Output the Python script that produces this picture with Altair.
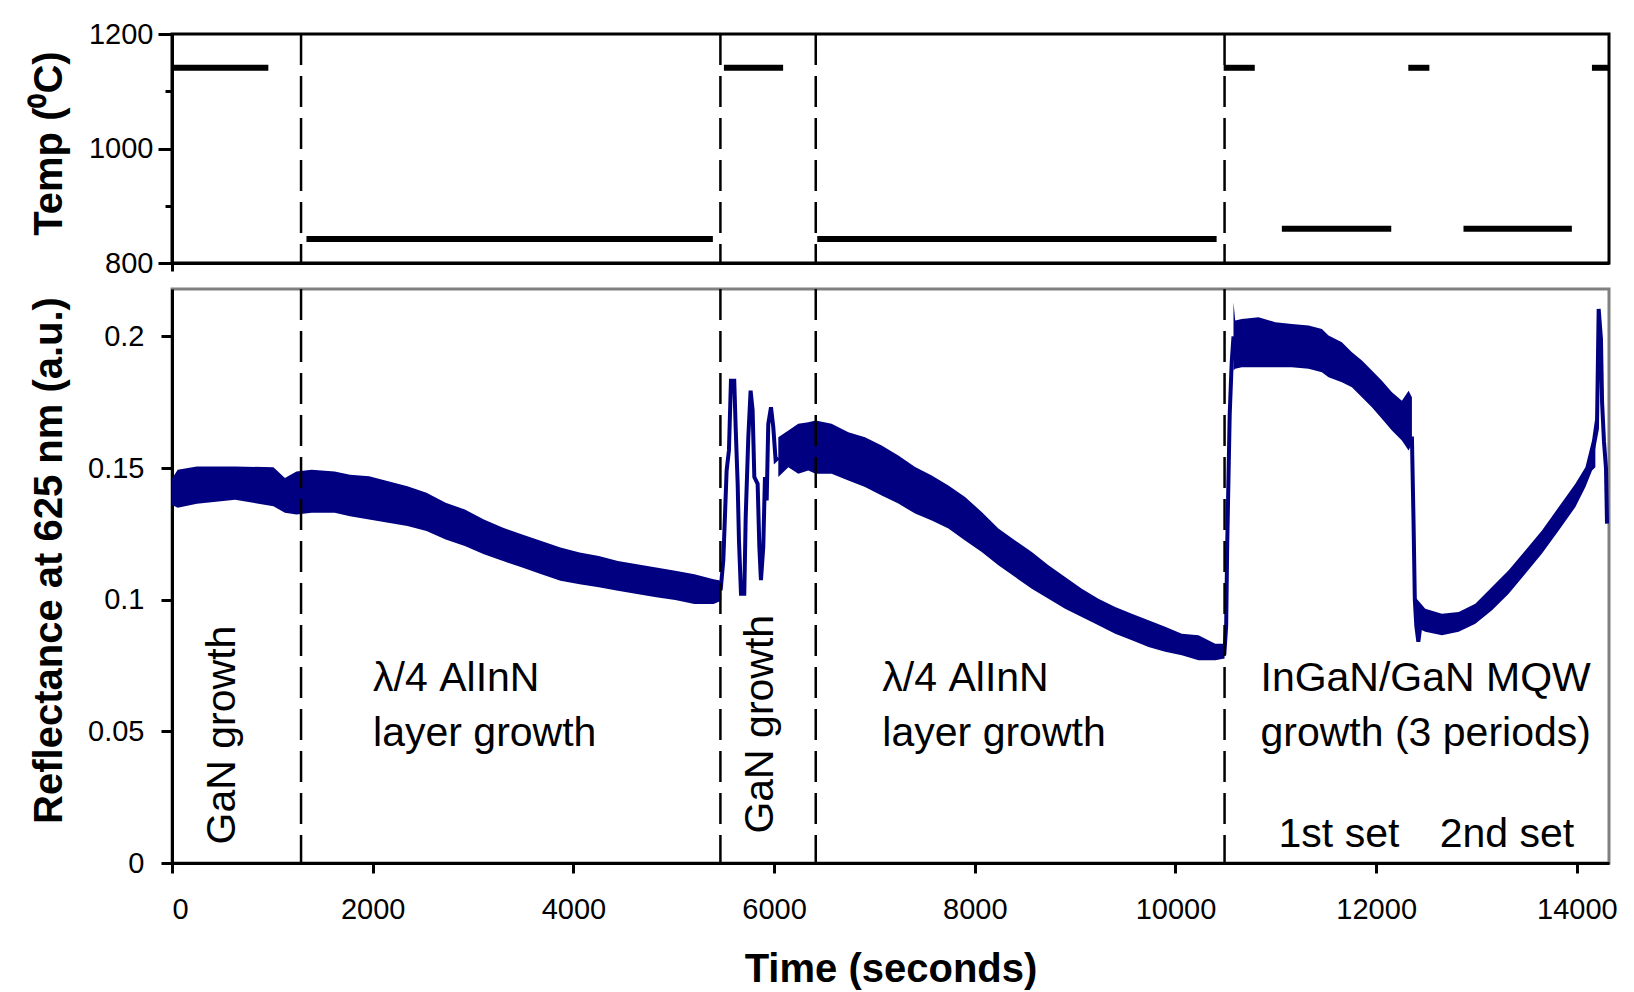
import altair as alt
import pandas as pd

# ---------------- data ----------------
# growth-step boundaries (s)
boundary_t = [1286, 5465, 6415, 10489]

# temperature schedule (top panel)
temp_start = [0, 1340, 5500, 6430, 10480, 11060, 12320, 12870, 14150]
temp_end = [960, 5390, 6090, 10410, 10790, 12150, 12530, 13950, 14320]
temp_value = [1141, 842, 1141, 842, 1141, 860, 1141, 860, 1141]

# reflectance band envelope (noisy trace drawn as a filled band)
band_seg = (["A"] * 30) + (["B"] * 30) + (["C"] * 18) + (["D"] * 14)
band_t = [
    0, 57, 248, 629, 1011, 1125, 1240, 1392, 1621, 1774, 1964, 2155, 2346, 2536, 2727,
    2918, 3108, 3299, 3490, 3681, 3871, 4062, 4253, 4443, 4634, 4825, 5015, 5206, 5397, 5473,
    6042, 6142, 6241, 6341, 6414, 6573, 6740, 6906, 7072, 7238, 7405, 7571, 7737, 7903, 8069,
    8235, 8402, 8568, 8734, 8900, 9066, 9232, 9399, 9565, 9731, 9897, 10063, 10229, 10396, 10489,
    10578, 10595, 10661, 10827, 10994, 11160, 11326, 11459, 11525, 11658, 11758, 11858, 11957,
    12057, 12157, 12256, 12323, 12356,
    12389, 12489, 12655, 12822, 12988, 13154, 13320, 13486, 13652, 13819, 13985, 14085, 14151, 14184,
]
band_lo = [
    0.1360, 0.1349, 0.1364, 0.1380, 0.1355, 0.1330, 0.1324, 0.1330, 0.1330, 0.1317, 0.1305, 0.1292,
    0.1280, 0.1261, 0.1229, 0.1204, 0.1173, 0.1147, 0.1122, 0.1097, 0.1072, 0.1059, 0.1047, 0.1034,
    0.1022, 0.1009, 0.0999, 0.0984, 0.0984, 0.0996,
    0.1466, 0.1503, 0.1478, 0.1491, 0.1478, 0.1478, 0.1453, 0.1428, 0.1396, 0.1365, 0.1327, 0.1301,
    0.1270, 0.1225, 0.1181, 0.1131, 0.1086, 0.1042, 0.1004, 0.0966, 0.0934, 0.0903, 0.0871, 0.0846,
    0.0820, 0.0802, 0.0789, 0.0770, 0.0770, 0.0777,
    0.1870, 0.1877, 0.1883, 0.1883, 0.1883, 0.1883, 0.1877, 0.1864, 0.1845, 0.1826, 0.1807, 0.1769,
    0.1731, 0.1687, 0.1643, 0.1605, 0.1567, 0.1592,
    0.0896, 0.0878, 0.0865, 0.0878, 0.0909, 0.0960, 0.1023, 0.1099, 0.1175, 0.1263, 0.1352, 0.1428,
    0.1491, 0.1503,
]
band_hi = [
    0.1460, 0.1494, 0.1506, 0.1506, 0.1503, 0.1462, 0.1487, 0.1494, 0.1487, 0.1475, 0.1469, 0.1450,
    0.1431, 0.1406, 0.1368, 0.1343, 0.1305, 0.1273, 0.1248, 0.1223, 0.1198, 0.1179, 0.1166, 0.1147,
    0.1135, 0.1122, 0.1110, 0.1097, 0.1078, 0.1072,
    0.1617, 0.1643, 0.1668, 0.1674, 0.1681, 0.1668, 0.1636, 0.1617, 0.1586, 0.1548, 0.1504, 0.1472,
    0.1434, 0.1390, 0.1333, 0.1270, 0.1225, 0.1181, 0.1131, 0.1086, 0.1042, 0.1004, 0.0972, 0.0947,
    0.0922, 0.0897, 0.0871, 0.0865, 0.0833, 0.0833,
    0.2130, 0.2060, 0.2066, 0.2073, 0.2054, 0.2047, 0.2041, 0.2028, 0.2003, 0.1978, 0.1940, 0.1908,
    0.1870, 0.1832, 0.1788, 0.1756, 0.1794, 0.1769,
    0.1010, 0.0966, 0.0947, 0.0953, 0.0985, 0.1048, 0.1112, 0.1187, 0.1263, 0.1352, 0.1440, 0.1503,
    0.1605, 0.1693,
]

# single-trace parts (oscillations and fast transitions)
line_seg = (["osc"] * 27) + (["up"] * 6) + (["drop"] * 6) + (["end"] * 8)
line_t = [
    5467, 5494, 5527, 5550, 5570, 5603, 5617, 5637, 5650, 5670, 5703, 5717, 5743, 5766,
    5786, 5803, 5836, 5853, 5869, 5892, 5909, 5926, 5942, 5969, 5992, 6015, 6042,
    10486, 10505, 10515, 10540, 10560, 10578,
    12356, 12372, 12385, 12400, 12420, 12440,
    14151, 14200, 14217, 14240, 14251, 14270, 14290, 14300,
]
line_v = [
    0.1036, 0.1149, 0.1491, 0.1567, 0.1832, 0.1832, 0.1655, 0.1440, 0.1225, 0.1023, 0.1023,
    0.1314, 0.1617, 0.1794, 0.1719, 0.1466, 0.1440, 0.1200, 0.1074, 0.1200, 0.1466, 0.1377,
    0.1668, 0.1731, 0.1655, 0.1530, 0.1540,
    0.0790, 0.0900, 0.1200, 0.1700, 0.1900, 0.2000,
    0.1620, 0.1300, 0.1000, 0.0900, 0.0840, 0.0900,
    0.1550, 0.1650, 0.2104, 0.1990, 0.1750, 0.1600, 0.1500, 0.1289,
]

# annotations
label_text = ["λ/4 AlInN", "layer growth", "λ/4 AlInN", "layer growth",
              "InGaN/GaN MQW", "growth (3 periods)", "1st set", "2nd set"]
label_t = [2004, 2004, 7079, 7079, 10847, 10847, 11027, 12633]
label_v = [0.0700, 0.0491, 0.0700, 0.0491, 0.0700, 0.0491, 0.0107, 0.0107]
vlabel_text = ["GaN growth", "GaN growth"]
vlabel_t = [508, 5867]
vlabel_v = [0.0486, 0.0527]

# ---------------- tables ----------------
bdf = pd.DataFrame({"t": boundary_t})
tdf = pd.DataFrame({"start": temp_start, "end": temp_end, "temp": temp_value})
band_df = pd.DataFrame({"seg": band_seg, "t": band_t, "lo": band_lo, "hi": band_hi})
line_df = pd.DataFrame({"seg": line_seg, "t": line_t, "v": line_v})
lab_df = pd.DataFrame({"t": label_t, "v": label_v, "text": label_text})
vlab_df = pd.DataFrame({"t": vlabel_t, "v": vlabel_v, "text": vlabel_text})

NAVY = "#000080"
FONT = "Liberation Sans"
W = 1437

x_scale = alt.Scale(domain=[0, 14320], nice=False, zero=False)

# ---------------- top panel ----------------
top_x_axis = alt.Axis(values=[0], labels=False, tickSize=8, domain=True)
top_y_axis = alt.Axis(
    values=[800, 900, 1000, 1100, 1200],
    format="d",
    labelExpr="datum.value % 200 == 0 ? datum.label : ''",
    tickSize={"condition": {"test": "datum.value % 200 == 0", "value": 14}, "value": 7},
    labelPadding=5,
    titleX=-123, titleY=109, titleAngle=270, titleAlign="center", titleBaseline="middle",
)
t_scale = alt.Scale(domain=[800, 1200], nice=False, zero=False)

top_bounds = alt.Chart(bdf).mark_rule(color="black", strokeWidth=2.5, strokeDash=[31, 11]).encode(
    x=alt.X("t:Q", scale=x_scale, axis=top_x_axis, title=None)
)
top_temp = alt.Chart(tdf).mark_rule(color="black", strokeWidth=6).encode(
    x=alt.X("start:Q", scale=x_scale, axis=top_x_axis, title=None),
    x2="end:Q",
    y=alt.Y("temp:Q", scale=t_scale, axis=top_y_axis, title="Temp (⁰C)"),
)
top = alt.layer(top_temp, top_bounds).properties(
    width=W, height=229, view=alt.ViewBackground(stroke="black", strokeWidth=3)
)

# ---------------- bottom panel ----------------
r_scale = alt.Scale(domain=[0, 0.218], nice=False, zero=False)
bx_axis = alt.Axis(
    values=list(range(0, 14001, 2000)), format="d", tickSize=10, labelPadding=22,
    titleY=106, titleBaseline="middle",
)
by_axis = alt.Axis(
    values=[0, 0.05, 0.1, 0.15, 0.2], format=".2~f", tickSize=11, labelPadding=17,
    titleX=-123, titleY=271, titleAngle=270, titleAlign="center", titleBaseline="middle",
)
XT = "Time (seconds)"
YT = "Reflectance at 625 nm (a.u.)"

band = alt.Chart(band_df).mark_area(color=NAVY, interpolate="linear").encode(
    x=alt.X("t:Q", scale=x_scale, axis=bx_axis, title=XT),
    y=alt.Y("lo:Q", scale=r_scale, axis=by_axis, title=YT),
    y2="hi:Q",
    detail="seg:N",
)
trace = alt.Chart(line_df).mark_line(color=NAVY, strokeWidth=4).encode(
    x=alt.X("t:Q", scale=x_scale, axis=bx_axis, title=XT),
    y=alt.Y("v:Q", scale=r_scale, axis=by_axis, title=YT),
    detail="seg:N",
)
bounds = alt.Chart(bdf).mark_rule(color="black", strokeWidth=2.5, strokeDash=[31, 11]).encode(
    x=alt.X("t:Q", scale=x_scale, axis=bx_axis, title=XT)
)
labels = alt.Chart(lab_df).mark_text(
    font=FONT, fontSize=41, color="black", align="left", baseline="middle"
).encode(
    x=alt.X("t:Q", scale=x_scale, axis=bx_axis, title=XT),
    y=alt.Y("v:Q", scale=r_scale, axis=by_axis, title=YT),
    text="text:N",
)
vlabels = alt.Chart(vlab_df).mark_text(
    font=FONT, fontSize=41, color="black", align="center", baseline="middle", angle=270
).encode(
    x=alt.X("t:Q", scale=x_scale, axis=bx_axis, title=XT),
    y=alt.Y("v:Q", scale=r_scale, axis=by_axis, title=YT),
    text="text:N",
)
bottom = alt.layer(band, trace, bounds, labels, vlabels).properties(
    width=W, height=574, view=alt.ViewBackground(stroke="#808080", strokeWidth=3)
)

chart = (
    alt.vconcat(top, bottom, spacing=6)
    .properties(padding={"left": 27, "top": 18, "right": 5, "bottom": 2}, background="white")
    .configure_axis(
        labelFont=FONT, labelFontSize=29, labelColor="black",
        titleFont=FONT, titleFontSize=40, titleFontWeight="bold", titleColor="black",
        domainColor="black", domainWidth=3, tickColor="black", tickWidth=3, grid=False,
    )
)

chart.save("out.html", embed_options={"renderer": "svg", "actions": False})
